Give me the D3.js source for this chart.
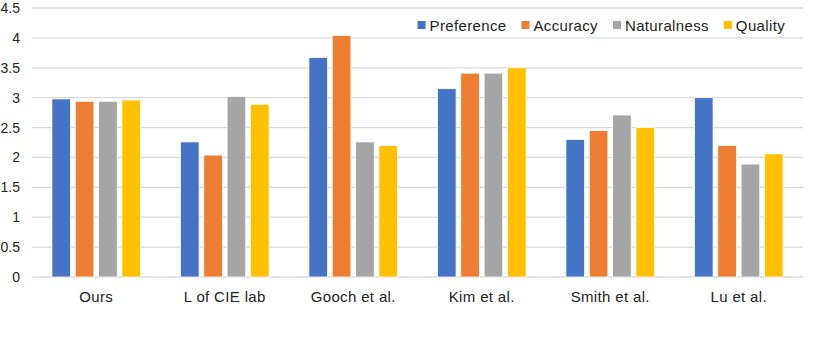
<!DOCTYPE html>
<html>
<head>
<meta charset="utf-8">
<script src="https://cdn.jsdelivr.net/npm/d3@7"></script>
<style>
  html, body { margin: 0; padding: 0; background: #fff; }
  svg text { font-family: "Liberation Sans", Arial, sans-serif; fill: #222; letter-spacing: 0.35px; }
  svg text.ytick { letter-spacing: 0; }
</style>
</head>
<body>
<div id="chart"></div>
<script>
// data
const categories = ["Ours", "L of CIE lab", "Gooch et al.", "Kim et al.", "Smith et al.", "Lu et al."];
const seriesNames = ["Preference", "Accuracy", "Naturalness", "Quality"];
const preference  = [2.98, 2.26, 3.67, 3.15, 2.30, 3.00];
const accuracy    = [2.94, 2.04, 4.04, 3.41, 2.45, 2.20];
const naturalness = [2.94, 3.02, 2.26, 3.41, 2.71, 1.89];
const quality     = [2.96, 2.89, 2.20, 3.50, 2.50, 2.06];
const yTicks = [0, 0.5, 1, 1.5, 2, 2.5, 3, 3.5, 4, 4.5];

const colors = ["#4472C4", "#ED7D31", "#A5A5A5", "#FFC000"];

const width = 831, height = 357;
const margin = {top: 8, right: 28, bottom: 80, left: 32};

const svg = d3.select("#chart").append("svg")
    .attr("width", width)
    .attr("height", height);

const values = [preference, accuracy, naturalness, quality];
const rows = categories.map((c, i) => ({
    category: c,
    vals: seriesNames.map((s, j) => ({series: s, value: values[j][i]}))
}));

const x0 = d3.scaleBand()
    .domain(categories)
    .range([margin.left, width - margin.right])
    .paddingInner(0.31)
    .paddingOuter(0.155);

const x1 = d3.scaleBand()
    .domain(seriesNames)
    .range([0, x0.bandwidth()])
    .paddingInner(0.2);

const y = d3.scaleLinear()
    .domain([0, 4.5])
    .range([height - margin.bottom, margin.top]);

const color = d3.scaleOrdinal().domain(seriesNames).range(colors);

// gridlines
svg.append("g")
    .selectAll("line")
    .data(yTicks)
    .join("line")
    .attr("x1", margin.left)
    .attr("x2", width - margin.right)
    .attr("y1", d => y(d))
    .attr("y2", d => y(d))
    .attr("stroke", "#d9d9d9")
    .attr("stroke-width", 1.3);

// y labels
svg.append("g")
    .selectAll("text")
    .data(yTicks)
    .join("text")
    .attr("class", "ytick")
    .attr("x", 20)
    .attr("y", d => y(d))
    .attr("dy", "0.36em")
    .attr("text-anchor", "end")
    .style("font-size", "14px")
    .text(d => d);

// bars
svg.append("g")
    .selectAll("g")
    .data(rows)
    .join("g")
    .attr("transform", d => `translate(${x0(d.category)},0)`)
    .selectAll("rect")
    .data(d => d.vals)
    .join("rect")
    .attr("x", d => x1(d.series))
    .attr("y", d => y(d.value))
    .attr("width", x1.bandwidth())
    .attr("height", d => y(0) - y(d.value))
    .attr("fill", d => color(d.series))
    .attr("stroke", "#fff")
    .attr("stroke-width", 0.8);

// category labels
svg.append("g")
    .selectAll("text")
    .data(categories)
    .join("text")
    .attr("x", d => x0(d) + x0.bandwidth() / 2)
    .attr("y", 302)
    .attr("text-anchor", "middle")
    .style("font-size", "15px")
    .text(d => d);

// legend, right aligned
const legend = svg.append("g");
const items = legend.selectAll("g")
    .data(seriesNames)
    .join("g");
items.append("rect")
    .attr("width", 8).attr("height", 8)
    .attr("y", 21)
    .attr("fill", d => color(d));
items.append("text")
    .attr("x", 12)
    .attr("y", 30.5)
    .style("font-size", "15px")
    .text(d => d);

let lx = 0;
items.each(function () {
    const w = d3.select(this).select("text").node().getComputedTextLength();
    d3.select(this).attr("transform", `translate(${lx},0)`);
    lx += 12 + w + 15;
});
const totalW = lx - 15;
legend.attr("transform", `translate(${785 - totalW},0)`);
</script>
</body>
</html>
